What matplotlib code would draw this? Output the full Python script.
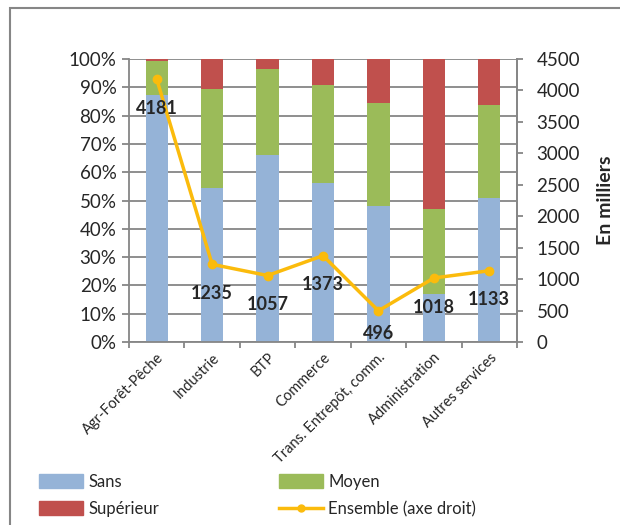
import numpy as np
import matplotlib
matplotlib.use("Agg")
import matplotlib.pyplot as plt
from matplotlib.patches import Rectangle
from matplotlib.lines import Line2D

plt.rcParams['font.family'] = ['Lato', 'DejaVu Sans']

secteurs = ["Agr-Forêt-Pêche", "Industrie", "BTP", "Commerce",
            "Trans. Entrepôt, comm.", "Administration", "Autres services"]
sans = [87.3, 54.4, 66.0, 56.3, 47.9, 17.1, 50.9]
moyen = [12.1, 35.0, 30.5, 34.5, 36.7, 29.8, 32.9]
superieur = [0.6, 10.6, 3.5, 9.2, 15.4, 53.1, 16.2]
ensemble = [4181, 1235, 1057, 1373, 496, 1018, 1133]

c_sans = "#95b3d7"
c_moyen = "#9bbb59"
c_sup = "#c0504d"
c_ens = "#fbbb0c"
gris = "#868686"
txt = "#262626"

fig = plt.figure(figsize=(6.2, 5.25), dpi=100)
ax = fig.add_axes([129/620, 1-342/525, (517-129)/620, (342-59)/525])

x = np.arange(len(secteurs))
w = 0.4
ax.bar(x, sans, w, color=c_sans, zorder=2)
ax.bar(x, moyen, w, bottom=sans, color=c_moyen, zorder=2)
ax.bar(x, superieur, w, bottom=np.add(sans, moyen), color=c_sup, zorder=2)

ax.set_xlim(-0.5, len(secteurs) - 0.5)
ax.set_ylim(0, 100)
ax.set_yticks(np.arange(0, 101, 10))
ax.set_yticklabels([f"{v}%" for v in range(0, 101, 10)])
ax.yaxis.grid(True, color=gris, lw=1.3, zorder=0)
ax.set_axisbelow(True)

# ticks between categories, labels at the centres
ax.set_xticks(np.arange(-0.5, len(secteurs), 1.0))
ax.set_xticklabels([])
ax.set_xticks(x, minor=True)
ax.set_xticklabels(secteurs, minor=True, rotation=45, ha="right", va="top",
                   rotation_mode="anchor", fontsize=10.5, color=txt)
ax.tick_params(axis="x", which="minor", length=0, pad=6)
ax.tick_params(axis="x", which="major", length=4, width=1.3, color=gris)
ax.tick_params(axis="y", length=5, width=1.3, color=gris, labelsize=13.5,
               labelcolor=txt, pad=4)

ax.spines["top"].set_visible(False)
for s in ["left", "bottom", "right"]:
    ax.spines[s].set_color(gris)
    ax.spines[s].set_linewidth(1.3)

ax2 = ax.twinx()
ax2.plot(x, ensemble, color=c_ens, lw=2.5, marker="o", ms=6, zorder=3)
ax2.set_ylim(0, 4500)
ax2.set_yticks(np.arange(0, 4501, 500))
ax2.tick_params(axis="y", length=4, width=1.3, color=gris, labelsize=13.5,
                labelcolor=txt, pad=10)
for s in ["top", "left", "bottom"]:
    ax2.spines[s].set_visible(False)
ax2.spines["right"].set_color(gris)
ax2.spines["right"].set_linewidth(1.3)
ax2.set_ylabel("En milliers", fontsize=14, fontweight="bold", color=txt, labelpad=12)

for i, v in enumerate(ensemble):
    dy = -16 if v < 600 else -21
    ax2.annotate(str(v), (i, v), xytext=(0, dy), textcoords="offset points",
                 ha="center", va="center", fontsize=13, fontweight="bold",
                 color=txt, zorder=4)

handles = [Rectangle((0, 0), 1, 1, color=c_sans),
           Rectangle((0, 0), 1, 1, color=c_sup),
           Rectangle((0, 0), 1, 1, color=c_moyen),
           Line2D([], [], color=c_ens, lw=2.5, marker="o", ms=5)]
labels = ["Sans", "Supérieur", "Moyen", "Ensemble (axe droit)"]
fig.legend(handles, labels, ncol=2, loc="upper left",
           bbox_to_anchor=(24/620, 1-459/525), frameon=False, fontsize=12,
           handlelength=2.65, handleheight=0.95, handletextpad=0.3,
           columnspacing=7.2, labelspacing=0.65, labelcolor=txt)

# chart frame
fig.patches.append(Rectangle((10/620, -0.05), 1.0, 1.05 - 8/525, fill=False,
                             edgecolor=gris, lw=1.5, transform=fig.transFigure))

fig.savefig("out.png", dpi=100)
